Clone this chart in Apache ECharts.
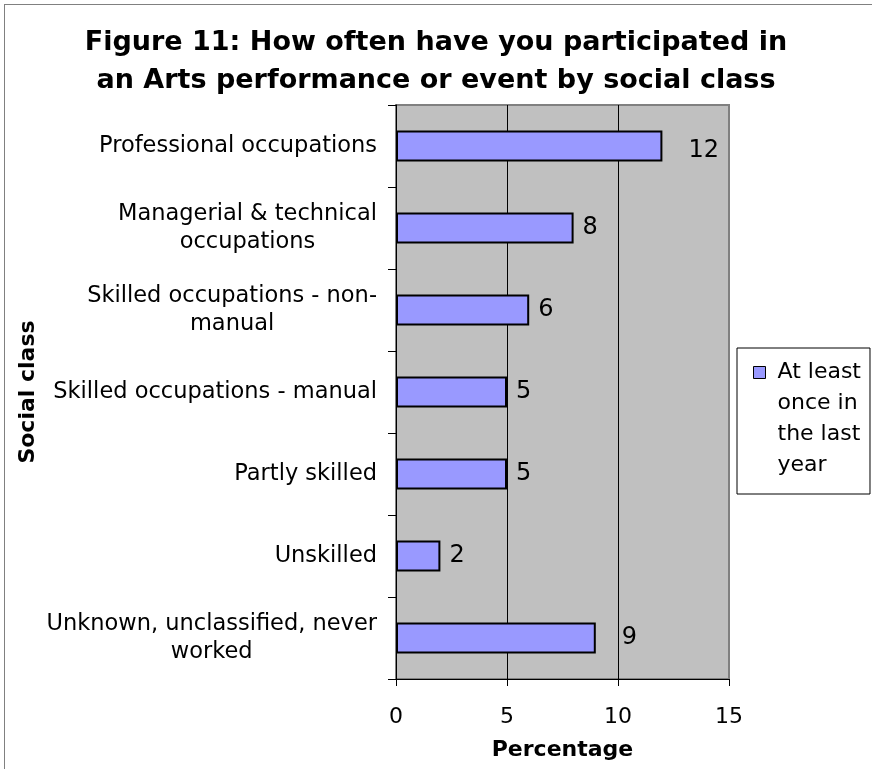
<!DOCTYPE html>
<html><head><meta charset="utf-8">
<script src="https://cdn.jsdelivr.net/npm/echarts@6/dist/echarts.min.js"></script>
<style>
html,body{margin:0;padding:0;background:#fff;overflow:hidden;width:872px;height:769px}
#frame{position:absolute;left:4px;top:4px;width:900px;height:900px;border:1px solid #808080;}
#chart{position:absolute;left:0;top:0;width:872px;height:769px;}
</style></head><body><div id="frame"></div><div id="chart"></div>
<script>
const titleLines = ['Figure 11: How often have you participated in', 'an Arts performance or event by social class'];
const categories = [
  'Professional occupations',
  'Managerial & technical\noccupations',
  'Skilled occupations - non-\nmanual',
  'Skilled occupations - manual',
  'Partly skilled',
  'Unskilled',
  'Unknown, unclassified, never\nworked'
];
const values = [12, 8, 6, 5, 5, 2, 9];
const seriesName = 'At least\nonce in\nthe last\nyear';
const xAxisName = 'Percentage';
const yAxisName = 'Social class';
const xMin = 0, xMax = 15, xStep = 5;

const FONT = 'DejaVu Sans';
const farLabels = new Set([0, 6]);

const chart = echarts.init(document.getElementById('chart'), null, {renderer: 'canvas'});
chart.setOption({
  animation: false,
  backgroundColor: 'transparent',
  title: {
    text: titleLines.join('\n'),
    left: 'center', top: 24, padding: 0,
    textStyle: {fontFamily: FONT, fontSize: 27, fontWeight: 'bold', lineHeight: 38, color: '#000'}
  },
  legend: {
    left: 737, top: 348, orient: 'vertical',
    padding: [8.5, 9, 12.5, 16],
    backgroundColor: '#fff', borderColor: '#000', borderWidth: 1,
    itemWidth: 19, itemHeight: 124,
    icon: 'path://M0,0L0,0M19,124L19,124M0,9.5H12V21.5H0Z',
    itemStyle: {color: '#9999FF', borderColor: '#000', borderWidth: 1},
    textStyle: {fontFamily: FONT, fontSize: 22, lineHeight: 31, color: '#000'},
    data: [seriesName]
  },
  grid: {
    left: 396, right: 143, top: 105, bottom: 90,
    show: true, backgroundColor: '#C0C0C0', borderColor: '#808080', borderWidth: 2
  },
  xAxis: {
    type: 'value', min: xMin, max: xMax, interval: xStep,
    name: xAxisName, nameLocation: 'middle', nameGap: 60,
    nameTextStyle: {fontFamily: FONT, fontSize: 22, fontWeight: 'bold', color: '#000'},
    axisLine: {show: true, lineStyle: {color: '#000', width: 1}},
    axisTick: {show: true, length: 7, lineStyle: {color: '#000'}},
    axisLabel: {fontFamily: FONT, fontSize: 22, color: '#000', margin: 27},
    splitLine: {show: true, showMinLine: false, showMaxLine: false, lineStyle: {color: '#000', width: 1}}
  },
  yAxis: {
    type: 'category', inverse: true, data: categories,
    name: yAxisName, nameLocation: 'middle', nameRotate: 90, nameGap: 357,
    nameTextStyle: {fontFamily: FONT, fontSize: 22, fontWeight: 'bold', color: '#000'},
    axisLine: {show: true, lineStyle: {color: '#000', width: 1}},
    axisTick: {show: true, length: 8, lineStyle: {color: '#000'}},
    axisLabel: {
      interval: 0, margin: 19, align: 'right',
      fontFamily: FONT, fontSize: 22.5, color: '#000', lineHeight: 28,
      formatter: v => v.split('\n').map(l => '{c|' + l + '}').join('\n'),
      rich: {c: {align: 'center', fontFamily: FONT, fontSize: 22.5, lineHeight: 28, color: '#000'}}
    },
    splitLine: {show: false}
  },
  series: [{
    name: seriesName, type: 'bar', barWidth: '38%',
    itemStyle: {color: '#9999FF', borderColor: '#000', borderWidth: 2},
    label: {show: true, position: 'right', fontFamily: FONT, fontSize: 24, color: '#000', distance: 9},
    data: values.map((v, i) => farLabels.has(i)
      ? {value: v, label: {distance: 26, offset: i === 0 ? [0, 5] : [0, 0]}}
      : v)
  }]
});
</script></body></html>
